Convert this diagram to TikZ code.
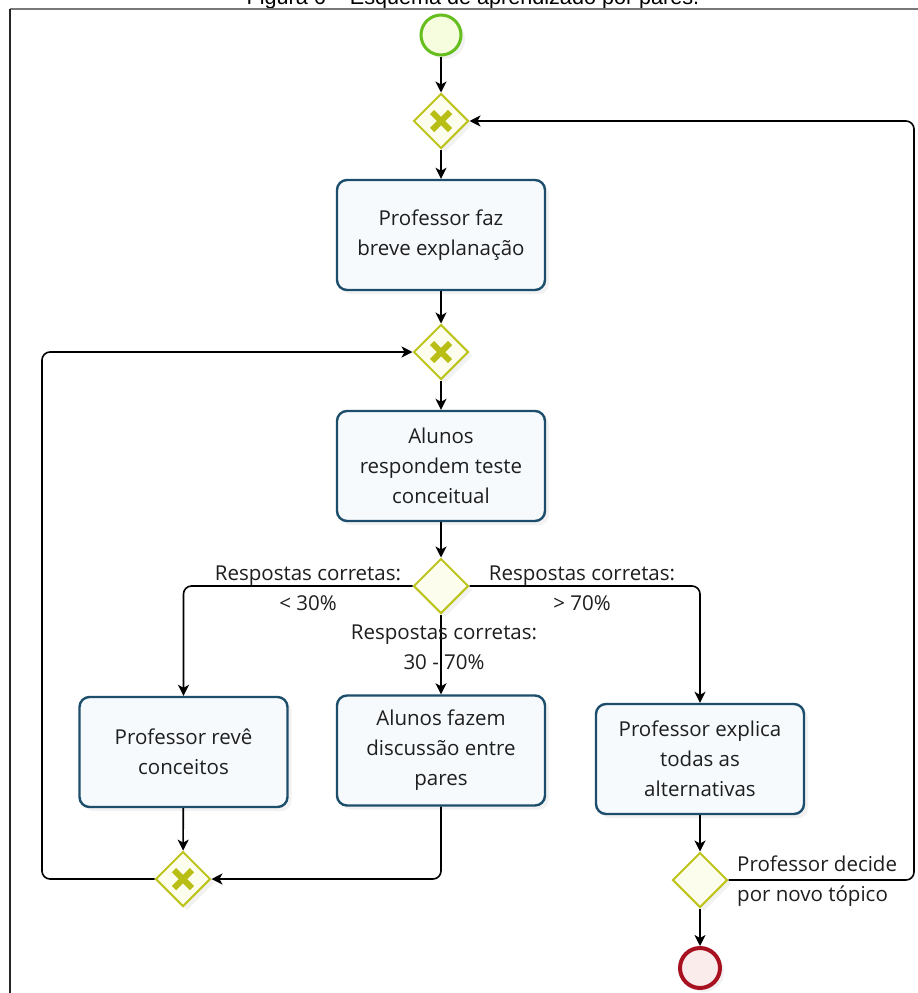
\documentclass[tikz,border=0pt]{standalone}
\usepackage{fontspec}
\setmainfont{Open Sans}
\newfontfamily\titlefont{Liberation Sans}
\usetikzlibrary{shapes.geometric,arrows.meta,shadows}
\definecolor{boxline}{RGB}{28,78,108}
\definecolor{boxfill}{RGB}{246,250,253}
\definecolor{gwline}{RGB}{190,196,30}
\definecolor{gwfill}{RGB}{253,253,238}
\definecolor{gwmark}{RGB}{184,190,20}
\definecolor{stline}{RGB}{100,190,30}
\definecolor{stfill}{RGB}{246,252,222}
\definecolor{enline}{RGB}{168,18,32}
\definecolor{enfill}{RGB}{251,236,236}
\definecolor{frameline}{RGB}{120,120,120}
\definecolor{txt}{RGB}{30,30,30}
\begin{document}
\begin{tikzpicture}[x=1pt,y=-1pt,
  every node/.style={font=\fontsize{20.5}{30}\selectfont, text=txt},
  softshadow/.style={drop shadow={opacity=0.10, shadow xshift=4pt, shadow yshift=-4pt}},
  task/.style={draw=boxline, line width=2.4pt, fill=boxfill, rounded corners=10pt,
    minimum width=208pt, minimum height=110pt, align=center, inner sep=4pt, softshadow},
  gw/.style={diamond, draw=gwline, line width=2pt, fill=gwfill, minimum size=55pt,
    inner sep=0pt, aspect=1, softshadow},
  gwcross/.style={gw, path picture={
    \draw[gwmark, line width=6pt]
      ([shift={(-9pt,-9pt)}]path picture bounding box.center) -- ([shift={(9pt,9pt)}]path picture bounding box.center)
      ([shift={(-9pt,9pt)}]path picture bounding box.center) -- ([shift={(9pt,-9pt)}]path picture bounding box.center);}},
  flow/.style={draw=black, line width=1.6pt, -{Stealth[length=11pt,width=11pt,inset=3pt]}, rounded corners=8pt},
  lbl/.style={align=center, inner sep=0pt}
]
\useasboundingbox (0,0) rectangle (918,993);
\fill[white] (0,0) rectangle (918,993);

% frame and cut title
\node[anchor=base, inner sep=0pt, font=\titlefont\fontsize{21.6}{26}\selectfont, text=black] (title) at (473,4.5) {Figura 6 – Esquema de aprendizado por pares.};
\draw[frameline, line width=2pt] (10,9) -- (918,9);
\draw[black!85, line width=2pt] (10,9) -- (10,993);

% nodes
\node[circle, draw=stline, fill=stfill, line width=3pt, minimum size=40pt, inner sep=0pt, softshadow] (start) at (441,35) {};
\node[gwcross] (gw1) at (441,121) {};
\node[task] (box1) at (441,235) {Professor faz\\breve explanação};
\node[gwcross] (gw2) at (441,352) {};
\node[task] (box2) at (441,466) {Alunos\\respondem teste\\conceitual};
\node[gw] (gw3) at (441,586) {};
\node[task] (boxL) at (183.5,752) {Professor revê\\conceitos};
\node[task] (boxM) at (441,750.5) {Alunos fazem\\discussão entre\\pares};
\node[task] (boxR) at (700,759) {Professor explica\\todas as\\alternativas};
\node[gwcross] (gw4) at (183,879) {};
\node[gw] (gw5) at (700,880) {};
\node[circle, draw=enline, fill=enfill, line width=4pt, minimum size=40pt, inner sep=0pt, softshadow] (end) at (700,968) {};

\coordinate (lx) at (42,0);
\coordinate (rx) at (914,0);

% connectors
\draw[flow] (start) -- (gw1);
\draw[flow] (gw1) -- (box1);
\draw[flow] (box1) -- (gw2);
\draw[flow] (gw2) -- (box2);
\draw[flow] (box2) -- (gw3);
\draw[flow] (gw3.west) -| (boxL.north);
\draw[flow] (gw3.south) -- (boxM.north);
\draw[flow] (gw3.east) -| (boxR.north);
\draw[flow] (boxL) -- (gw4);
\draw[flow] (boxM.south) |- (gw4.east);
\draw[flow] (gw4.west) -- (gw4.west -| lx) |- (gw2.west);
\draw[flow] (boxR) -- (gw5);
\draw[flow] (gw5.east) -- (gw5.east -| rx) |- (gw1.east);
\draw[flow] (gw5) -- (end);

% labels
\node[lbl] (labL) at (308,588.5) {Respostas corretas:\\< 30\%};
\node[lbl] (labR) at (582,588.5) {Respostas corretas:\\> 70\%};
\node[lbl] (labM) at (444,647.5) {Respostas corretas:\\30 - 70\%};
\node[lbl, align=left, anchor=west] (labD) at (737,881) {Professor decide\\por novo tópico};
\end{tikzpicture}
\end{document}
